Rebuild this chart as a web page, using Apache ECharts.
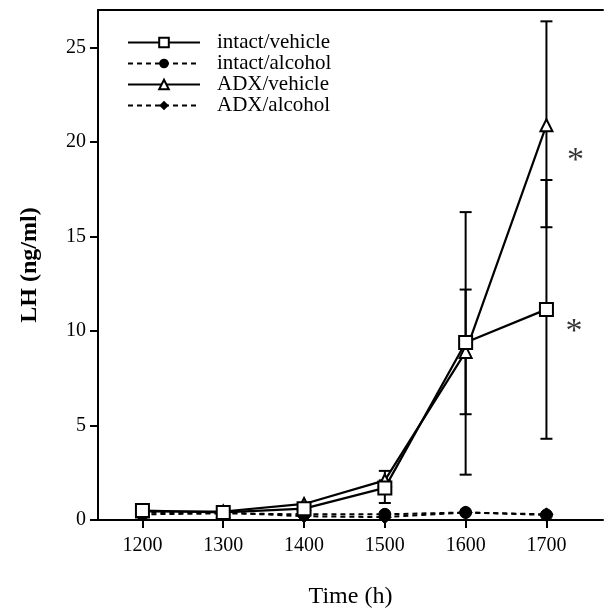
<!DOCTYPE html>
<html>
<head>
<meta charset="utf-8">
<script src="https://cdn.jsdelivr.net/npm/echarts@6/dist/echarts.min.js"></script>
<style>
  html, body { margin: 0; padding: 0; background: #fff; }
  #chart { width: 608px; height: 614px; }
</style>
</head>
<body>
<div id="chart"></div>
<script>
// 時刻 (h)
const times = [1200, 1300, 1400, 1500, 1600, 1700];

// LH (ng/ml)
const intactVehicle = [0.5, 0.4, 0.6, 1.7, 9.4, 11.15];
const intactAlcohol = [0.3, 0.35, 0.3, 0.3, 0.4, 0.27];
const adxVehicle = [0.45, 0.45, 0.85, 2.1, 8.9, 20.9];
const adxAlcohol = [0.4, 0.4, 0.2, 0.15, 0.4, 0.3];

// エラーバー [time, low, high]
const intactVehicleErr = [[1500, 0.9, 1.7], [1600, 2.4, 16.3], [1700, 4.3, 18.0]];
const adxVehicleErr = [[1500, 2.1, 2.6], [1600, 5.6, 12.2], [1700, 15.5, 26.4]];

// 有意差マーク
const stars = [[1736, 19.0], [1734, 9.95]];

const yTicks = [0, 5, 10, 15, 20, 25];

const font = 'Liberation Serif';
const chart = echarts.init(document.getElementById('chart'));

function pairs(ys) {
  return times.map((t, i) => [t, ys[i]]);
}

function errRender(params, api) {
  const x = api.value(0);
  const lo = api.coord([x, api.value(1)]);
  const hi = api.coord([x, api.value(2)]);
  const w = 6;
  const style = { stroke: '#000', lineWidth: 2 };
  return {
    type: 'group',
    children: [
      { type: 'line', shape: { x1: lo[0], y1: lo[1], x2: hi[0], y2: hi[1] }, style },
      { type: 'line', shape: { x1: lo[0] - w, y1: lo[1], x2: lo[0] + w, y2: lo[1] }, style },
      { type: 'line', shape: { x1: hi[0] - w, y1: hi[1], x2: hi[0] + w, y2: hi[1] }, style }
    ]
  };
}

const lineBase = {
  type: 'line',
  smooth: false,
  symbolSize: 12,
  z: 3
};

const option = {
  animation: false,
  backgroundColor: '#fff',
  grid: { left: 98, right: 5, top: 10, bottom: 92 },
  legend: {
    orient: 'vertical',
    left: 122,
    top: 27,
    itemWidth: 72,
    itemHeight: 12,
    itemGap: 0,
    textStyle: {
      fontFamily: font, fontSize: 21, lineHeight: 19, color: '#000',
      padding: [0, 0, 0, 12]
    },
    data: ['intact/vehicle', 'intact/alcohol', 'ADX/vehicle', 'ADX/alcohol']
  },
  xAxis: [{
    type: 'value',
    min: 1145,
    max: 1770,
    name: 'Time (h)',
    nameLocation: 'middle',
    nameGap: 65,
    nameTextStyle: { fontFamily: font, fontSize: 24, color: '#000' },
    splitLine: { show: false },
    axisLine: { lineStyle: { color: '#000', width: 2 } },
    axisTick: { customValues: times, length: 8, lineStyle: { color: '#000', width: 2 } },
    axisLabel: {
      customValues: times, formatter: v => String(v),
      fontFamily: font, fontSize: 20, color: '#000', margin: 16
    }
  }, {
    type: 'value',
    position: 'top',
    min: 1145,
    max: 1770,
    splitLine: { show: false },
    axisLine: { show: true, lineStyle: { color: '#000', width: 2 } },
    axisTick: { show: false },
    axisLabel: { show: false }
  }],
  yAxis: {
    type: 'value',
    min: 0,
    max: 27,
    name: 'LH (ng/ml)',
    nameLocation: 'middle',
    nameGap: 56,
    nameTextStyle: { fontFamily: font, fontSize: 24, fontWeight: 'bold', color: '#000' },
    splitLine: { show: false },
    axisLine: { show: true, lineStyle: { color: '#000', width: 2 } },
    axisTick: { show: true, customValues: yTicks, length: 8, lineStyle: { color: '#000', width: 2 } },
    axisLabel: { customValues: yTicks, fontFamily: font, fontSize: 20, color: '#000', margin: 12 }
  },
  series: [
    {
      type: 'custom', name: 'errIV', renderItem: errRender, data: intactVehicleErr,
      encode: { x: 0, y: [1, 2] }, z: 2, silent: true
    },
    {
      type: 'custom', name: 'errAV', renderItem: errRender, data: adxVehicleErr,
      encode: { x: 0, y: [1, 2] }, z: 2, silent: true
    },
    Object.assign({}, lineBase, {
      name: 'intact/alcohol', data: pairs(intactAlcohol), symbol: 'circle',
      lineStyle: { color: '#000', width: 2, type: [5, 4] },
      itemStyle: { color: '#000', borderColor: '#000' }
    }),
    Object.assign({}, lineBase, {
      name: 'ADX/alcohol', data: pairs(adxAlcohol), symbol: 'diamond', symbolSize: 13,
      lineStyle: { color: '#000', width: 2, type: [5, 4] },
      itemStyle: { color: '#000', borderColor: '#000' }
    }),
    Object.assign({}, lineBase, {
      name: 'ADX/vehicle', data: pairs(adxVehicle), symbol: 'triangle', symbolSize: 12,
      lineStyle: { color: '#000', width: 2.2 },
      itemStyle: { color: '#fff', borderColor: '#000', borderWidth: 2 }
    }),
    Object.assign({}, lineBase, {
      name: 'intact/vehicle', data: pairs(intactVehicle), symbol: 'rect', symbolSize: 13,
      lineStyle: { color: '#000', width: 2.2 },
      itemStyle: { color: '#fff', borderColor: '#000', borderWidth: 2 }
    }),
    {
      type: 'scatter', name: 'stars', data: stars, symbolSize: 1, silent: true,
      itemStyle: { color: 'rgba(0,0,0,0)' },
      label: {
        show: true, position: 'inside', formatter: '*',
        fontFamily: font, fontSize: 34, color: '#000'
      }
    }
  ]
};

chart.setOption(option);
</script>
</body>
</html>
